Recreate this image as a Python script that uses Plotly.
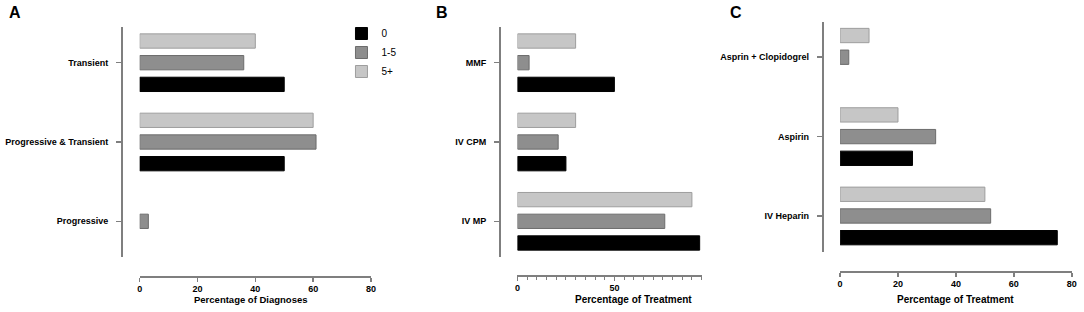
import plotly.graph_objects as go

# ---------------- data ----------------
series_names = ["0", "1-5", "5+"]

a_categories = ["Progressive", "Progressive & Transient", "Transient"]
a_0 = [None, 50, 50]
a_15 = [3, 61, 36]
a_5p = [None, 60, 40]
a_ticks = [0, 20, 40, 60, 80]
a_title = "Percentage of Diagnoses"

b_categories = ["IV MP", "IV CPM", "MMF"]
b_0 = [94, 25, 50]
b_15 = [76, 21, 6]
b_5p = [90, 30, 30]
b_ticks = [0, 50]
b_title = "Percentage of Treatment"

c_categories = ["IV Heparin", "Aspirin", "Asprin + Clopidogrel"]
c_0 = [75, 25, None]
c_15 = [52, 33, 3]
c_5p = [50, 20, 10]
c_ticks = [0, 20, 40, 60, 80]
c_title = "Percentage of Treatment"

panel_letters = ["A", "B", "C"]

# ---------------- styling ----------------
W, H = 1084, 312
FONT = "Liberation Sans, Arial, Helvetica, sans-serif"
AXIS_COLOR = "#7f7f7f"
fills = ["#000000", "#8e8e8e", "#c6c6c6"]
outlines = ["#000000", "#6c6c6c", "#9e9e9e"]


def px(x):
    return x / W


def py(y):
    return 1 - y / H


panels = [
    dict(cats=a_categories, vals=[a_0, a_15, a_5p], ticks=a_ticks, title=a_title,
         xdom=(137.7, 370.7), ydom=(27, 257), ylinex=120, xliney=276.5,
         xrange=[0, 80], minor=None, title_x=250, title_size=9.5, letter_x=4),
    dict(cats=b_categories, vals=[b_0, b_15, b_5p], ticks=b_ticks, title=b_title,
         xdom=(518.3, 703.8), ydom=(27, 257), ylinex=500.7, xliney=275.5,
         xrange=[0, 95], minor=5, title_x=635.5, title_size=10, letter_x=434),
    dict(cats=c_categories, vals=[c_0, c_15, c_5p], ticks=c_ticks, title=c_title,
         xdom=(843.3, 1076.7), ydom=(21.5, 251.7), ylinex=826, xliney=271.5,
         xrange=[0, 80], minor=None, title_x=960, title_size=10, letter_x=730),
]

fig = go.Figure()
annotations = []
layout_axes = {}

for i, p in enumerate(panels):
    n = "" if i == 0 else str(i + 1)
    xa, ya = "x" + n, "y" + n
    for s, name in enumerate(series_names):
        fig.add_trace(go.Bar(
            y=p["cats"], x=p["vals"][s], name=name, orientation="h",
            marker=dict(color=fills[s], line=dict(color=outlines[s], width=1)),
            xaxis=xa, yaxis=ya, showlegend=(i == 0), legendgroup=name,
        ))
    xaxis = dict(
        domain=[px(p["xdom"][0]), px(p["xdom"][1])],
        anchor="free", position=py(p["xliney"]),
        range=p["xrange"], tickmode="array", tickvals=p["ticks"],
        showline=True, linecolor=AXIS_COLOR, linewidth=2,
        ticks="outside", ticklen=4, tickwidth=1.5, tickcolor=AXIS_COLOR,
        showgrid=False, zeroline=False,
        tickfont=dict(family=FONT, size=9, color="black", weight="bold"),
        fixedrange=True,
    )
    if p["minor"]:
        xaxis["minor"] = dict(dtick=p["minor"], tick0=0, ticks="outside", ticklen=3,
                              tickwidth=1, tickcolor=AXIS_COLOR, showgrid=False)
    yaxis = dict(
        domain=[py(p["ydom"][1]), py(p["ydom"][0])],
        anchor="free", position=px(p["ylinex"]),
        type="category", categoryorder="array", categoryarray=p["cats"],
        range=[-0.45, 2.45],
        showline=True, linecolor=AXIS_COLOR, linewidth=2,
        ticks="outside", ticklen=5, tickwidth=1.5, tickcolor=AXIS_COLOR,
        showgrid=False, zeroline=False, ticklabelstandoff=6,
        tickfont=dict(family=FONT, size=9, color="black", weight="bold"),
        fixedrange=True,
    )
    layout_axes["xaxis" + n] = xaxis
    layout_axes["yaxis" + n] = yaxis
    annotations.append(dict(
        text=p["title"], x=px(p["title_x"]), y=py(299), xref="paper", yref="paper",
        xanchor="center", yanchor="middle", showarrow=False,
        font=dict(family=FONT, size=p["title_size"], color="black", weight="bold"),
    ))
    annotations.append(dict(
        text=panel_letters[i], x=px(p["letter_x"]), y=py(13), xref="paper", yref="paper",
        xanchor="left", yanchor="middle", showarrow=False,
        font=dict(family=FONT, size=16, color="black", weight="bold"),
    ))

fig.update_layout(
    width=W, height=H,
    margin=dict(l=0, r=0, t=0, b=0),
    paper_bgcolor="white", plot_bgcolor="white",
    barmode="group", bargap=0.18, bargroupgap=0.34,
    showlegend=True,
    legend=dict(x=px(341), y=py(19), xanchor="left", yanchor="top",
                traceorder="normal", bgcolor="rgba(0,0,0,0)",
                font=dict(family=FONT, size=10, color="black")),
    annotations=annotations,
    hovermode=False,
    **layout_axes,
)

fig.write_html(
    "out.html",
    config={"displayModeBar": False, "staticPlot": True},
    post_script="document.body.style.margin='0px';document.body.style.overflow='hidden';",
)
